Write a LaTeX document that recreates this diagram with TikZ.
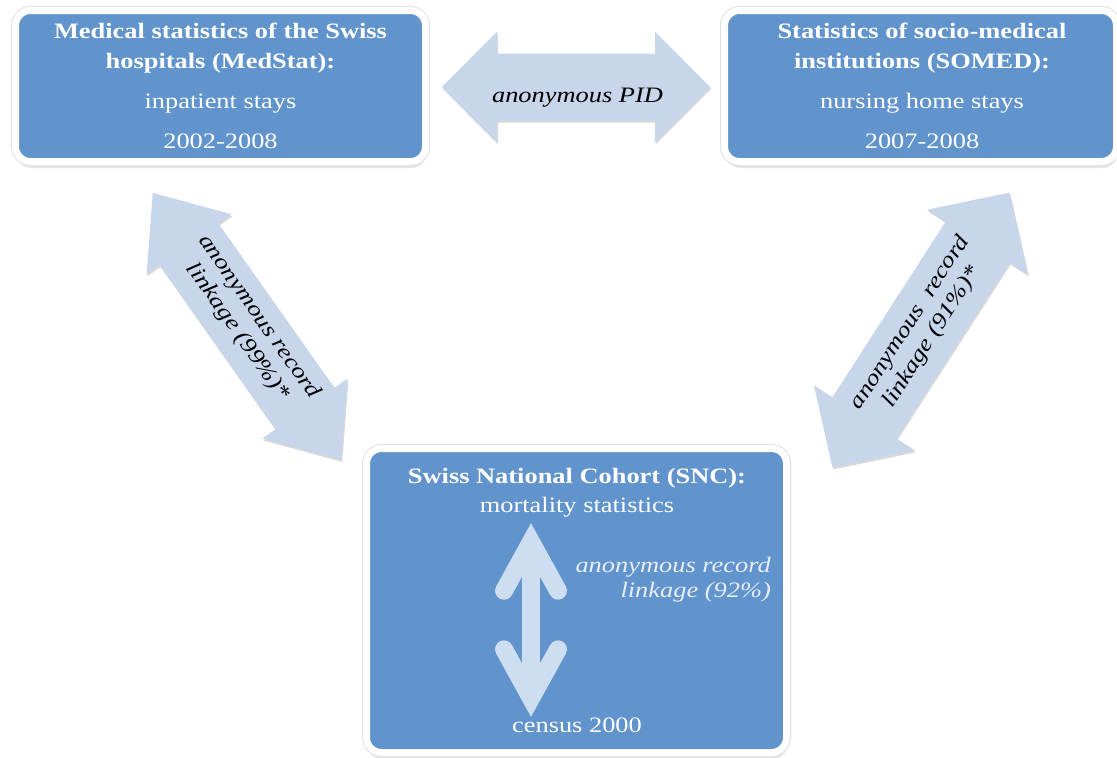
\documentclass[tikz,border=0pt]{standalone}
\usepackage{fontspec}
\setmainfont{Liberation Serif}[FakeStretch=1.2]
\usetikzlibrary{shadows,calc}
\definecolor{boxblue}{RGB}{97,147,204}
\definecolor{arrowblue}{RGB}{199,214,235}
\definecolor{innerarrow}{RGB}{205,222,242}
\definecolor{innertext}{RGB}{232,239,248}
\begin{document}
\begin{tikzpicture}[x=1pt,y=-1pt,
  box/.style={draw=white, line width=7pt, fill=boxblue, rounded corners=15pt, inner sep=0pt,
    drop shadow={shadow xshift=0.5pt, shadow yshift=-4pt, opacity=0.14, fill=black},
    drop shadow={shadow xshift=1pt, shadow yshift=-6.5pt, opacity=0.10, fill=black},
    preaction={draw=black!12, line width=9pt}},
  ttl/.style={text=white, font=\fontsize{22}{26}\selectfont\bfseries, anchor=base, inner sep=0pt},
  sub/.style={text=white, font=\fontsize{22}{26}\selectfont, anchor=base, inner sep=0pt},
  blockarrow/.style={fill=arrowblue, drop shadow={shadow xshift=1pt, shadow yshift=-2pt, opacity=0.15, fill=black}},
  lab/.style={font=\fontsize{22}{26}\selectfont\itshape, inner sep=0pt},
  diaglab/.style={font=\fontsize{22}{26}\selectfont\itshape, align=center, inner sep=0pt, transform shape},
  vline/.style={innerarrow, line width=18pt, line join=miter, line cap=round},
  vshadow/.style={black, opacity=0.12, line width=18pt, line join=miter, line cap=round},
]
\useasboundingbox (0,0) rectangle (1117,758);

% boxes
\node[box, minimum width=410pt, minimum height=151pt] (med) at (220.5,86) {};
\node[box, minimum width=392pt, minimum height=151pt] (somed) at (920.5,86) {};
\node[box, minimum width=420pt, minimum height=304pt] (snc) at (576.5,600.5) {};

% box texts
\node[ttl] (m1) at (220.5,38) {Medical statistics of the Swiss};
\node[ttl] (m2) at (220.5,68) {hospitals (MedStat):};
\node[sub] (m3) at (220.5,108) {inpatient stays};
\node[sub] (m4) at (220.5,148) {2002-2008};

\node[ttl] (s1) at (922,38) {Statistics of socio-medical};
\node[ttl] (s2) at (922,68) {institutions (SOMED):};
\node[sub] (s3) at (922,108) {nursing home stays};
\node[sub] (s4) at (922,148) {2007-2008};

\node[ttl] (c1) at (577,483) {Swiss National Cohort (SNC):};
\node[sub] (mort) at (577,512) {mortality statistics};
\node[sub] (census) at (577,732) {census 2000};

% horizontal block arrow
\path[blockarrow] (442,87) -- (497,31.5) -- (497,53.5) -- (655,53.5) -- (655,31.5) -- (710,87)
  -- (655,142.5) -- (655,120.5) -- (497,120.5) -- (497,142.5) -- cycle;
\node[lab, anchor=base] (pid) at (577.5,102) {anonymous PID};

% left diagonal block arrow
\begin{scope}[shift={(247,326.4)}, rotate=-54.8]
  \path[blockarrow] (-163.5,0) -- (-100.5,-52) -- (-100.5,-36) -- (100.5,-36) -- (100.5,-52) -- (163.5,0)
    -- (100.5,52) -- (100.5,36) -- (-100.5,36) -- (-100.5,52) -- cycle;
  \node[diaglab] (l1) at (-1,-2) {anonymous record\\linkage (99\%)*};
\end{scope}

% right diagonal block arrow
\begin{scope}[shift={(921,330)}, rotate=57.2]
  \path[blockarrow] (-163.5,0) -- (-104.5,-60) -- (-104.5,-38) -- (104.5,-38) -- (104.5,-60) -- (163.5,0)
    -- (104.5,60) -- (104.5,38) -- (-104.5,38) -- (-104.5,60) -- cycle;
  \node[diaglab] (r1) at (0,0) {anonymous\ \ record\\linkage (91\%)*};
\end{scope}

% inner vertical arrow
\coordinate (vt) at ($(mort.base)+(-46,29.75)$);
\coordinate (vb) at ($(census.base)+(-46,-33.75)$);
\begin{scope}[shift={(1.5,2)}]
  \draw[vshadow] ($(vt)+(-27,49)$) -- (vt) -- ($(vt)+(27,49)$);
  \draw[vshadow, line cap=butt] (vt) -- (vb);
  \draw[vshadow] ($(vb)+(-27,-49)$) -- (vb) -- ($(vb)+(27,-49)$);
\end{scope}
\draw[vline, line cap=butt] (vt) -- (vb);
\draw[vline] ($(vt)+(-27,49)$) -- (vt) -- ($(vt)+(27,49)$);
\draw[vline] ($(vb)+(-27,-49)$) -- (vb) -- ($(vb)+(27,-49)$);

\node[lab, text=innertext, anchor=base east] (q1) at (771,572) {anonymous record};
\node[lab, text=innertext, anchor=base east] (q2) at (771,597) {linkage (92\%)};
\end{tikzpicture}
\end{document}
